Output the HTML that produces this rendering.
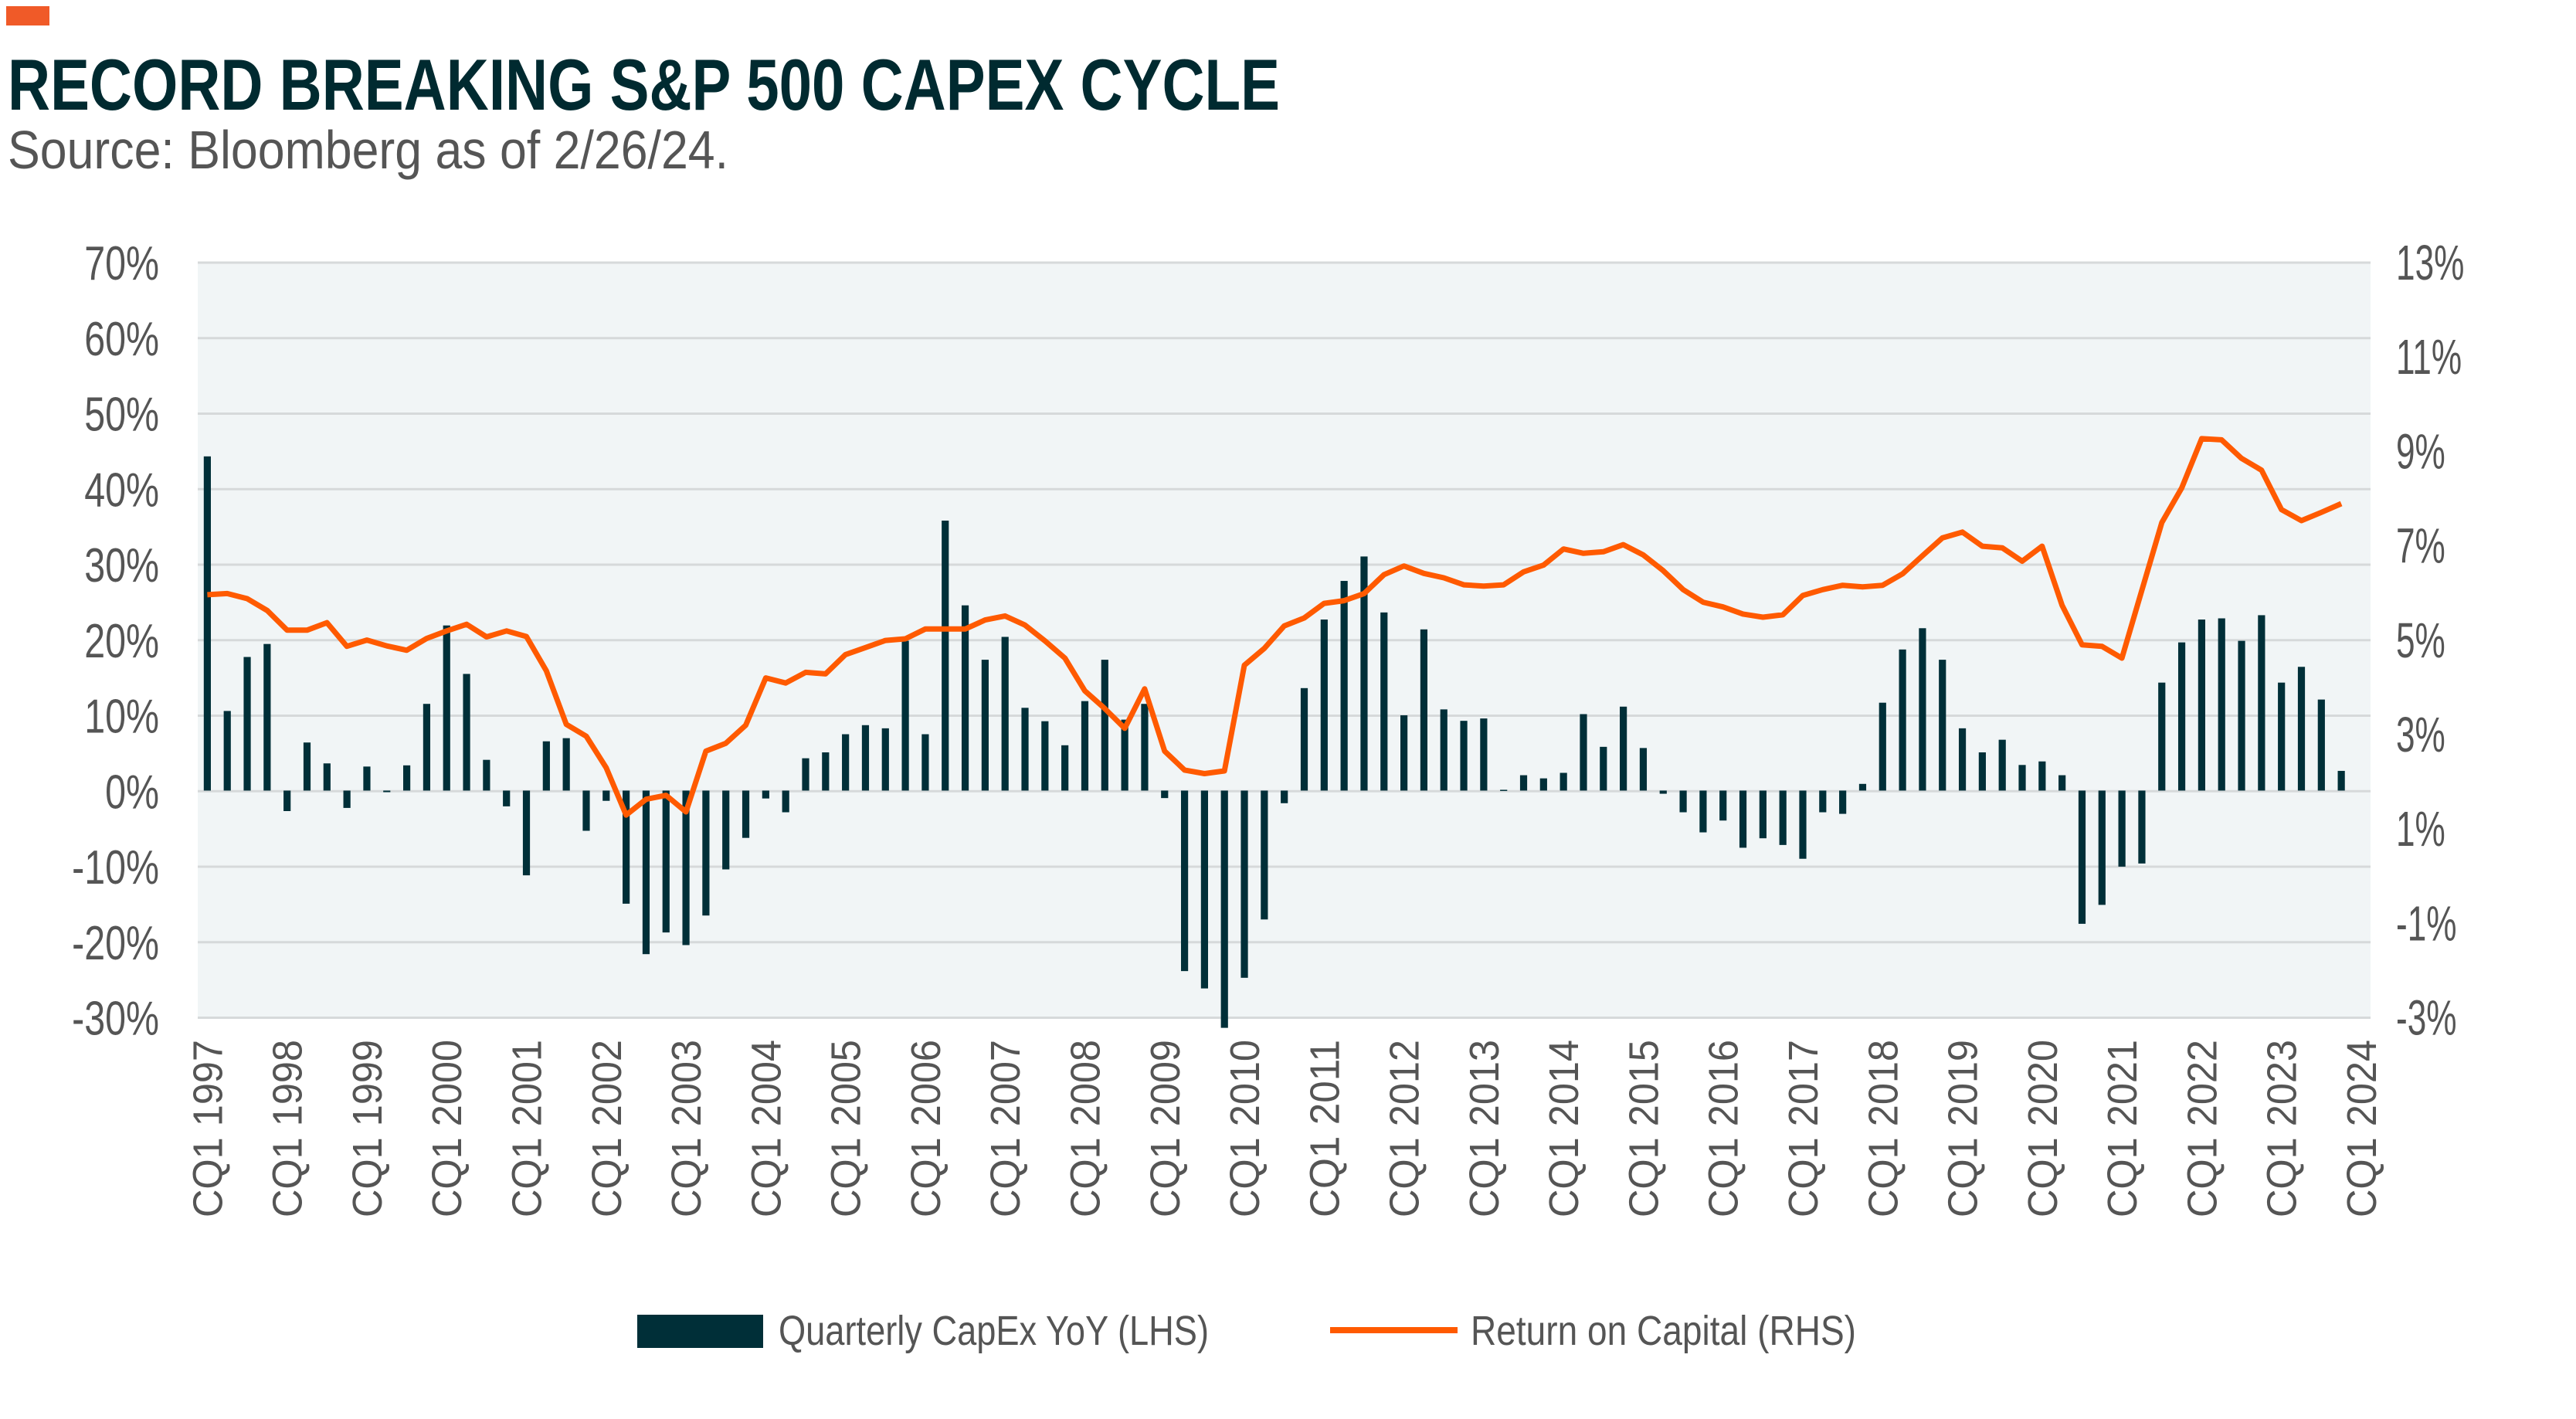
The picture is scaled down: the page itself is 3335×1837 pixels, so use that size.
<!DOCTYPE html>
<html><head><meta charset="utf-8">
<style>
html,body{margin:0;padding:0;background:#fff;}
svg{display:block;}
text{font-family:"Liberation Sans",sans-serif;}
</style></head>
<body>
<svg id="c" width="3335" height="1837" viewBox="0 0 3335 1837" xmlns="http://www.w3.org/2000/svg">
<rect x="8" y="8" width="56" height="25" fill="#f05a28"/>
<text x="10" y="142" font-size="94" font-weight="bold" fill="#002a30" textLength="1647" lengthAdjust="spacingAndGlyphs">RECORD BREAKING S&amp;P 500 CAPEX CYCLE</text>
<text x="10" y="218" font-size="70" fill="#555" textLength="933" lengthAdjust="spacingAndGlyphs">Source: Bloomberg as of 2/26/24.</text>
<rect x="256" y="340" width="2813" height="978" fill="#f1f5f6"/>
<g id="grid"></g>
<g id="bars"></g>
<polyline id="line" fill="none" stroke="#ff5a00" stroke-width="7" stroke-linejoin="round"/>
<g id="labels" fill="#555"></g>
<rect x="825" y="1702" width="163" height="43" fill="#002f38"/>
<text x="1008" y="1741" font-size="54" fill="#555" textLength="557" lengthAdjust="spacingAndGlyphs">Quarterly CapEx YoY (LHS)</text>
<line x1="1722" y1="1722" x2="1887" y2="1722" stroke="#ff5a00" stroke-width="8"/>
<text x="1904" y="1741" font-size="54" fill="#555" textLength="499" lengthAdjust="spacingAndGlyphs">Return on Capital (RHS)</text>
</svg>
<script>
var NS="http://www.w3.org/2000/svg";
function el(t,a,p){var e=document.createElementNS(NS,t);for(var k in a)e.setAttribute(k,a[k]);p.appendChild(e);return e;}
var bars=[80,726,589,556,980,806,859,972,867,932,864,708,509,632,850,968,1143,803,795,1030,954,1215,1343,1288,1320,1245,1128,1048,
948,983,846,831,785,762,770,548,785,243,458,596,538,718,752,813,701,596,748,708,947,1386,1430,1530,1403,1255,960,
668,494,396,334,476,737,519,722,751,745,926,889,897,883,734,817,715,820,936,983,1034,1004,1073,1049,1066,1101,983,
987,911,705,570,516,596,770,831,799,863,854,889,1266,1218,1121,1113,654,552,494,491,548,483,654,614,697,878];
var line=[431,428,441,471,521,521,502,562,546,561,572,542,523,506,538,523,537,624,760,790,870,990,950,940,982,828,808,762,
642,655,628,632,583,565,547,543,518,518,518,495,485,508,548,592,675,720,770,670,828,876,885,878,610,567,510,
490,453,446,428,380,358,377,388,406,409,406,373,356,315,326,322,304,330,370,418,450,462,480,488,482,433,418,
407,411,407,378,332,287,272,308,312,346,308,458,558,562,592,420,248,160,35,38,85,115,215,243,222,200];
function Y(z){return 550+z/1.96;}
function X(i){return 268.4+i*25.82;}
var g=document.getElementById('grid'),b=document.getElementById('bars'),L=document.getElementById('labels');
var zero=Y(928);
function squeeze(t,f){try{var w=t.getComputedTextLength();t.setAttribute('textLength',(w*f).toFixed(1));t.setAttribute('lengthAdjust','spacingAndGlyphs');}catch(e){}}
for(var k=0;k<11;k++){var y=340+k*97.75;el('rect',{x:256,y:y-1.5,width:2813,height:3,fill:'#d6d9da'},g);
 var t=el('text',{x:206,y:y+22,'font-size':62,'text-anchor':'end'},L);t.textContent=(70-10*k)+'%';squeeze(t,0.78);}
for(var k=0;k<9;k++){var y=340+k*122.19;var t=el('text',{x:3102,y:y+22,'font-size':64},L);t.textContent=(13-2*k)+'%';squeeze(t,0.69);}
for(var i=0;i<bars.length;i++){var yb=Y(bars[i]);var y0=Math.min(yb,zero),h=Math.abs(yb-zero);
 el('rect',{x:X(i)-4.6,y:y0,width:9.2,height:Math.max(h,1.5),fill:'#002f38'},b);}
var pts=[];for(var i=0;i<line.length;i++)pts.push(X(i).toFixed(1)+','+Y(line[i]).toFixed(1));
document.getElementById('line').setAttribute('points',pts.join(' '));
for(var yr=1997;yr<=2024;yr++){var i=(yr-1997)*4;var x=X(i)+19;
 var t=el('text',{x:0,y:0,'font-size':54,'text-anchor':'end',transform:'translate('+x.toFixed(1)+',1346) rotate(-90)',textLength:230,lengthAdjust:'spacingAndGlyphs'},L);
 t.textContent='CQ1 '+yr;}
</script>
</body></html>
